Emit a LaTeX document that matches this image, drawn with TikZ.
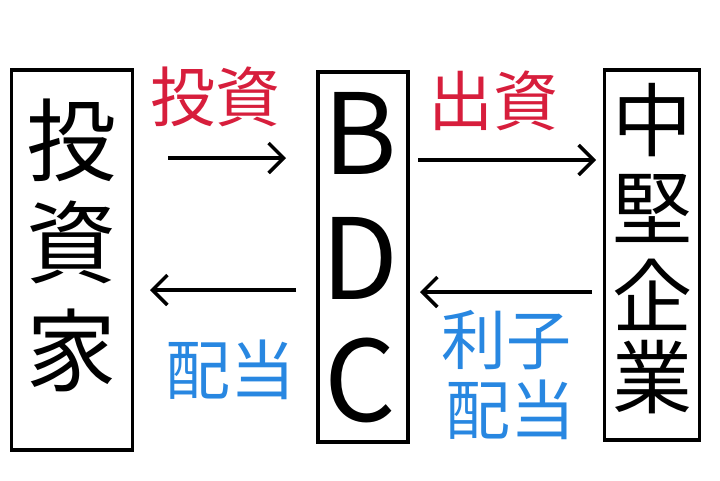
\documentclass[tikz,border=0pt]{standalone}
\usepackage{fontspec}
\setmainfont{Noto Sans CJK JP}
\usetikzlibrary{arrows.meta}
\definecolor{inkred}{RGB}{215,30,60}
\definecolor{inkblue}{RGB}{40,135,225}
\tikzset{
  box/.style={draw=black,line width=3.5pt},
  big/.style={font=\fontsize{90}{90}\selectfont,inner sep=0pt,anchor=center},
  mid/.style={font=\fontsize{80}{80}\selectfont,inner sep=0pt,anchor=center},
  lat/.style={font=\fontsize{112}{112}\selectfont,inner sep=0pt,anchor=center},
  lab/.style={font=\fontsize{65}{65}\selectfont,inner sep=0pt,anchor=center},
  flow/.style={line width=3.5pt,-{Straight Barb[length=15pt,width=30pt,line width=3.5pt]}}
}
\begin{document}
\begin{tikzpicture}[x=1pt,y=-1pt]
\useasboundingbox (0,0) rectangle (720,480);
\fill[white] (0,0) rectangle (720,480);
% boxes
\node[box,minimum width=121pt,minimum height=380pt,inner sep=0pt] (inv) at (72,260) {};
\node[box,minimum width=90pt,minimum height=370pt,inner sep=0pt] (bdc) at (363,257) {};
\node[box,minimum width=95pt,minimum height=370pt,inner sep=0pt] (firm) at (652,255) {};
% box texts
\node[big] (t1) at (72,140) {投};
\node[big] (t2) at (72,242) {資};
\node[big] (t3) at (72,350) {家};
\node[lat] (b1) at (360,133) {B};
\node[lat] (b2) at (360,258) {D};
\node[lat] (b3) at (360,380) {C};
\node[mid] (f1) at (652,120) {中};
\node[mid] (f2) at (652,208) {堅};
\node[mid] (f3) at (652,295) {企};
\node[mid] (f4) at (652,377) {業};
% arrows
\coordinate (a1s) at (168,158); \coordinate (a1e) at (286,158);
\coordinate (a2s) at (296,290); \coordinate (a2e) at (150,290);
\coordinate (a3s) at (418,160); \coordinate (a3e) at (596,160);
\coordinate (a4s) at (592,292); \coordinate (a4e) at (420,292);
\draw[flow] (a1s) -- (a1e);
\draw[flow] (a2s) -- (a2e);
\draw[flow] (a3s) -- (a3e);
\draw[flow] (a4s) -- (a4e);
% labels
\node[lab,text=inkred] (l1) at (215,97) {投資};
\node[lab,text=inkred] (l2) at (493,101) {出資};
\node[lab,text=inkblue] (l3) at (230,370) {配当};
\node[lab,text=inkblue] (l4) at (506,340) {利子};
\node[lab,text=inkblue] (l5) at (510,410) {配当};
\end{tikzpicture}
\end{document}
